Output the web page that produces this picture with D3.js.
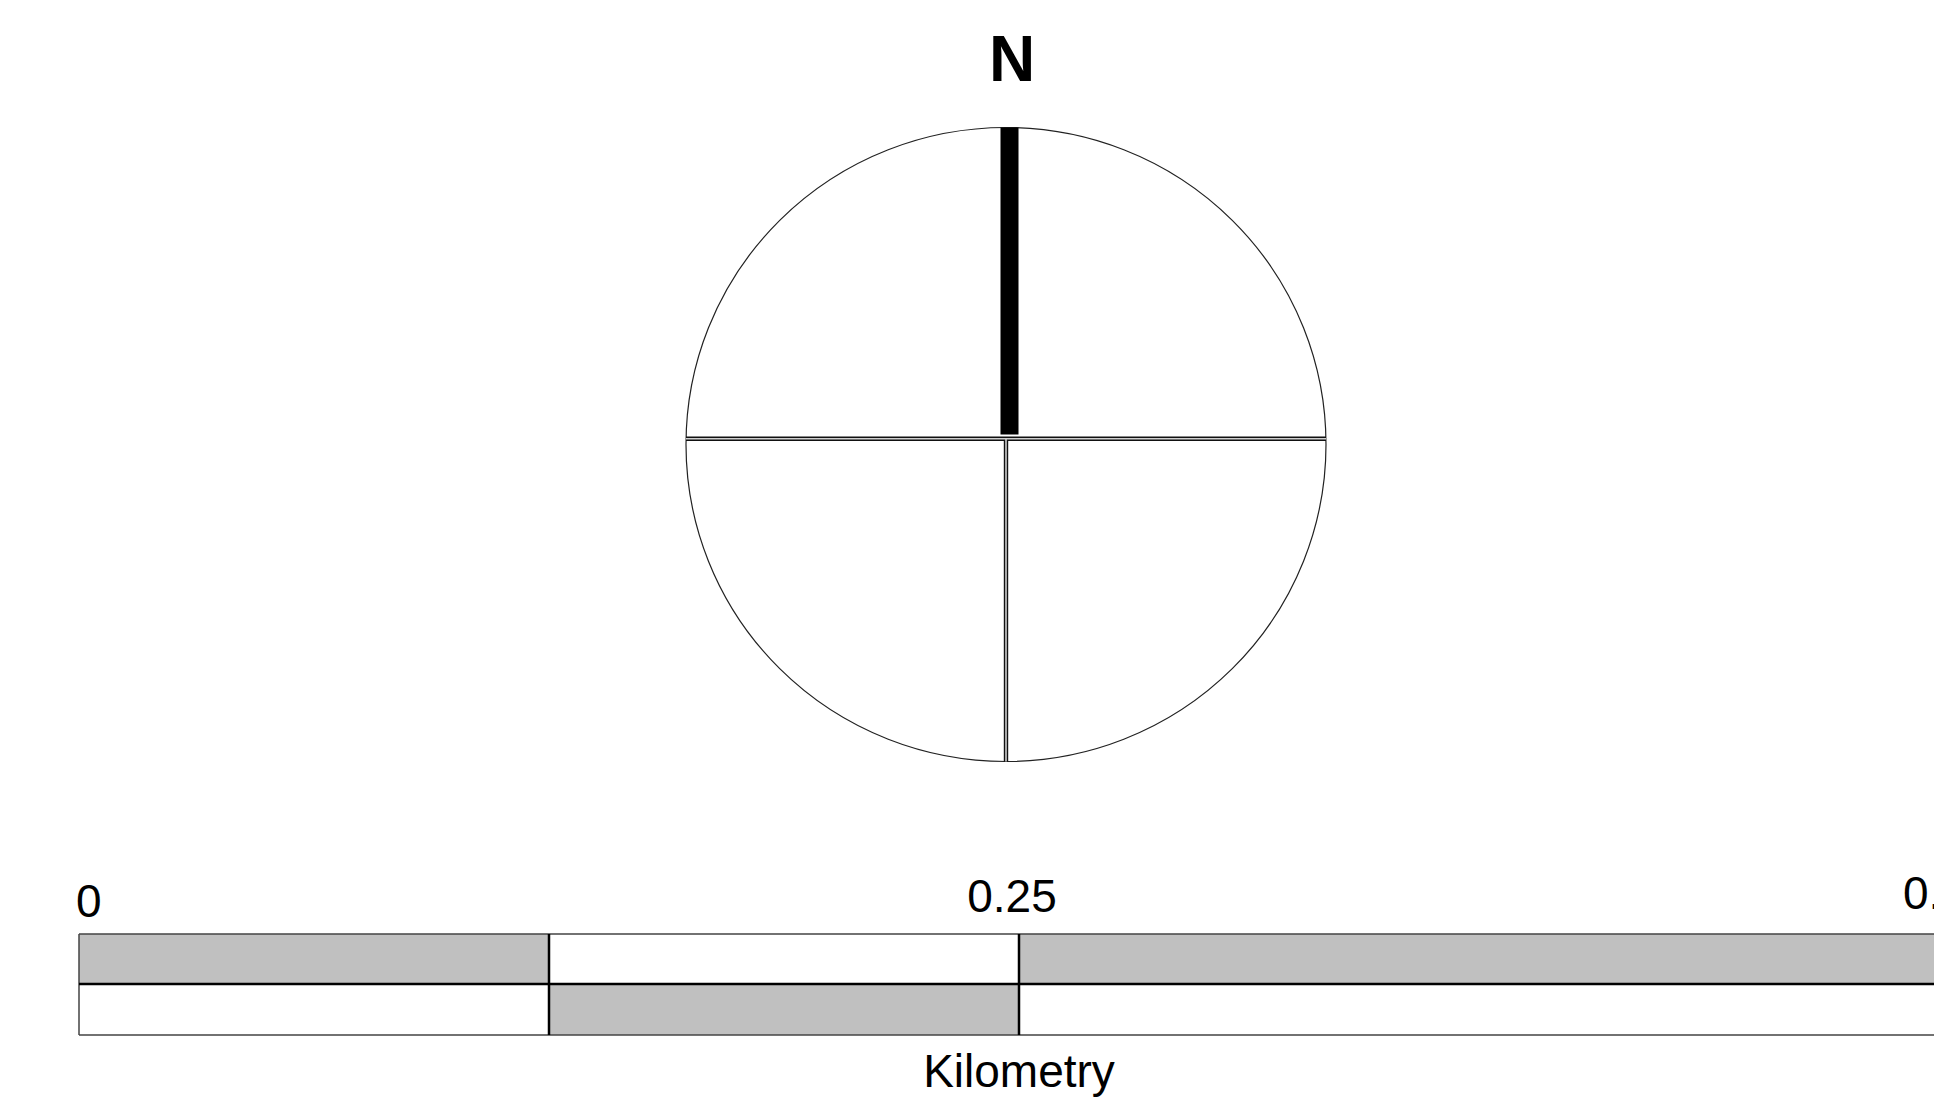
<!DOCTYPE html>
<html>
<head>
<meta charset="utf-8">
<script src="https://cdn.jsdelivr.net/npm/d3@7"></script>
<style>
    html, body { margin: 0; padding: 0; background: #fff; overflow: hidden; }
    svg { display: block; }
    text { font-family: "Liberation Sans", Arial, sans-serif; fill: #000; }
</style>
</head>
<body>
<svg id="map" width="1934" height="1098"></svg>
<script>
/* Scale bar data */
var scaleStops = [0, 0.125, 0.25, 0.5];   // division points, km
var scaleLabels = [0, 0.25, 0.5];         // labelled values, km
var scaleUnit = 'Kilometry';
var northLabel = 'N';

var svg = d3.select('#map');
var W = 1934;

/* North arrow */
/* ************ */
var compass = { cx: 1006, cy: 444.5, rx: 320, ry: 317, crossY: 438.7 };
var north = svg.append('g').attr('class', 'north');

north.append('ellipse')
    .attr('cx', compass.cx)
    .attr('cy', compass.cy)
    .attr('rx', compass.rx)
    .attr('ry', compass.ry)
    .attr('fill', 'none')
    .attr('stroke', '#222')
    .attr('stroke-width', 1.2);

// double-line cross: dark outer stroke with a pale core
var cross = [
    [[compass.cx - compass.rx, compass.crossY], [compass.cx + compass.rx, compass.crossY]],
    [[compass.cx, compass.crossY], [compass.cx, compass.cy + compass.ry]]
];
[['#111', 4.4], ['#cfcfcf', 1.6]].forEach(function (s) {
    north.selectAll(null)
        .data(cross)
        .enter()
        .append('path')
        .attr('d', d3.line())
        .attr('fill', 'none')
        .attr('stroke', s[0])
        .attr('stroke-width', s[1]);
});

// solid needle pointing north
north.append('rect')
    .attr('x', 1000.5)
    .attr('y', compass.cy - compass.ry)
    .attr('width', 18)
    .attr('height', 434.5 - (compass.cy - compass.ry))
    .attr('fill', '#000');

north.append('text')
    .attr('x', 1012)
    .attr('y', 81)
    .attr('text-anchor', 'middle')
    .attr('font-size', 64)
    .attr('font-weight', 'bold')
    .text(northLabel);

/* Scale bar */
/* ********* */
var x = d3.scaleLinear()
    .domain([0, d3.max(scaleStops)])
    .range([79, 1959]);

var rows = [934, 984, 1035];   // top, middle, bottom edges
var segs = d3.pairs(scaleStops);
var bar = svg.append('g').attr('class', 'scalebar');

[0, 1].forEach(function (r) {
    bar.selectAll(null)
        .data(segs)
        .enter()
        .append('rect')
        .attr('x', function (d) { return x(d[0]); })
        .attr('y', rows[r])
        .attr('width', function (d) { return x(d[1]) - x(d[0]); })
        .attr('height', rows[r + 1] - rows[r])
        .attr('fill', function (d, i) { return (i + r) % 2 === 0 ? '#c0c0c0' : '#fff'; });
});

// outer thin edges
bar.append('path')
    .attr('d', 'M' + x(0) + ',' + rows[0] + 'H' + x.range()[1] +
               'M' + x(0) + ',' + rows[2] + 'H' + x.range()[1] +
               'M' + x(0) + ',' + rows[0] + 'V' + rows[2])
    .attr('fill', 'none')
    .attr('stroke', '#444')
    .attr('stroke-width', 1.5);

// middle rule and inner divisions, heavier
bar.append('line')
    .attr('x1', x(0))
    .attr('x2', x.range()[1])
    .attr('y1', rows[1])
    .attr('y2', rows[1])
    .attr('stroke', '#000')
    .attr('stroke-width', 2.5);

bar.selectAll('line.div')
    .data(scaleStops.slice(1, -1))
    .enter()
    .append('line')
    .attr('class', 'div')
    .attr('x1', x)
    .attr('x2', x)
    .attr('y1', rows[0])
    .attr('y2', rows[2])
    .attr('stroke', '#000')
    .attr('stroke-width', 2.5);

var fmt = function (v) { return String(v); };
bar.selectAll('text.lbl')
    .data(scaleLabels)
    .enter()
    .append('text')
    .attr('class', 'lbl')
    .attr('font-size', 46)
    .attr('text-anchor', function (d, i) { return i === 0 ? 'start' : 'middle'; })
    .attr('x', function (d, i) {
        if (i === 0) return x(d) - 3;
        return Math.min(x(d) - 7, W - 1);
    })
    .attr('y', function (d, i) { return [917, 912, 909][i]; })
    .each(function (d, i) {
        // last label is pushed back so it starts just before the frame edge
        if (i === scaleLabels.length - 1) {
            d3.select(this).attr('text-anchor', 'start').attr('x', W - 31);
        }
    })
    .text(fmt);

bar.append('text')
    .attr('x', x(0.25))
    .attr('y', 1087)
    .attr('text-anchor', 'middle')
    .attr('font-size', 46)
    .text(scaleUnit);
</script>
</body>
</html>
